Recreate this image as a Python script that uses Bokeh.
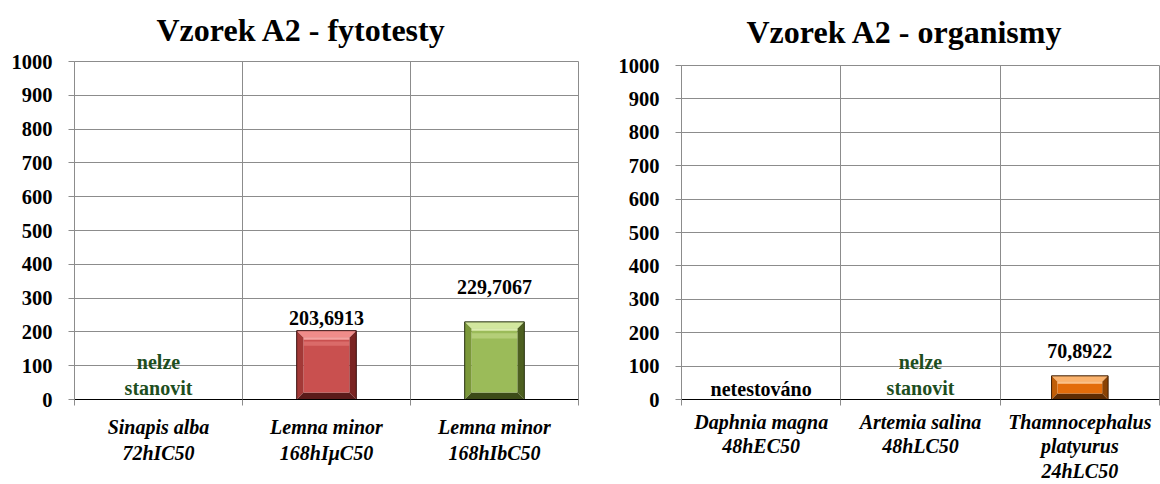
from bokeh.plotting import figure
from bokeh.models import Range1d, FixedTicker, ColumnDataSource
from bokeh.layouts import row
from bokeh.embed import file_html
from bokeh.resources import INLINE
from bokeh.core.properties import value

FONT = "Liberation Serif"

# ---------------- data ----------------
fyto_title = "Vzorek A2 - fytotesty"
fyto_categories = ["Sinapis alba\n72hIC50", "Lemna minor\n168hI\u03bcC50", "Lemna minor\n168hIbC50"]
fyto_values = [None, 203.6913, 229.7067]
fyto_labels = ["nelze\nstanovit", "203,6913", "229,7067"]

org_title = "Vzorek A2 - organismy"
org_categories = ["Daphnia magna\n48hEC50", "Artemia salina\n48hLC50", "Thamnocephalus\nplatyurus\n24hLC50"]
org_values = [None, None, 70.8922]
org_labels = ["netestov\u00e1no", "nelze\nstanovit", "70,8922"]

y_ticks = list(range(0, 1001, 100))

# ---------------- styles ----------------
RED = dict(main="#C9504F", light="#F08C8A", left="#A33937", right="#7A2422",
           bottom="#5A1B1A", edge="#3A0F0E", glow="#F4A3A1")
GREEN = dict(main="#9BBB59", light="#D2E79E", left="#7B983A", right="#4D6020",
             bottom="#3C4B18", edge="#26300E", glow="#DCEDB0")
ORANGE = dict(main="#E36C0A", light="#FBB36E", left="#C05E08", right="#8A4204",
              bottom="#5E2C03", edge="#3E1D02", glow="#FCC590")

fyto_styles = [None, RED, GREEN]
org_styles = [None, None, ORANGE]
fyto_text_colors = ["#1E4E1E", "black", "black"]
org_text_colors = ["black", "#1E4E1E", "black"]
fyto_label_offsets = [0, -13, -35]
org_label_offsets = [0, 0, -25]

GRID = "#8C8C8C"
HEIGHT = 484
BOTTOM = 85


def make_chart(title, cats, vals, labels, styles, tcolors, loffs,
               width, border_left, border_right, border_top, frame_w, title_offset,
               xlabel_standoff, xlabel_line_height):
    frame_h = HEIGHT - border_top - BOTTOM
    p = figure(width=width, height=HEIGHT,
               x_range=Range1d(0, len(cats)), y_range=Range1d(0, 1000),
               output_backend="svg", toolbar_location=None,
               min_border_left=border_left, min_border_right=border_right,
               min_border_top=border_top, min_border_bottom=BOTTOM,
               title=title)
    try:
        p.frame_align = False
    except Exception:
        pass
    p.title.align = "left"
    p.title.vertical_align = "top"
    p.title.offset = title_offset
    p.title.standoff = border_top - 37.5
    p.title.text_font = FONT
    p.title.text_font_size = "32px"
    p.title.text_font_style = "bold"
    p.title.text_color = "black"

    p.outline_line_color = GRID
    p.background_fill_color = "white"
    p.border_fill_color = "white"

    # y axis
    p.yaxis.ticker = FixedTicker(ticks=y_ticks, minor_ticks=[])
    p.yaxis.major_label_text_font = FONT
    p.yaxis.major_label_text_font_size = "20.5px"
    p.yaxis.major_label_text_font_style = "bold"
    p.yaxis.major_label_text_color = "black"
    p.yaxis.axis_line_color = GRID
    p.yaxis.major_tick_line_color = GRID
    p.yaxis.major_tick_out = 6
    p.yaxis.major_tick_in = 0
    p.yaxis.major_label_standoff = 16

    # x axis: labels at category centres, tick marks at category boundaries
    n = len(cats)
    centers = [i + 0.5 for i in range(n)]
    p.xaxis.ticker = FixedTicker(ticks=centers, minor_ticks=list(range(n + 1)))
    p.xaxis.major_label_overrides = {c: t for c, t in zip(centers, cats)}
    p.xaxis.major_label_text_font = FONT
    p.xaxis.major_label_text_font_size = "20px"
    p.xaxis.major_label_text_font_style = "bold italic"
    p.xaxis.major_label_text_color = "black"
    p.xaxis.major_label_text_line_height = xlabel_line_height
    p.xaxis.axis_line_color = "black"
    p.xaxis.major_tick_out = 0
    p.xaxis.major_tick_in = 0
    p.xaxis.minor_tick_out = 6
    p.xaxis.minor_tick_in = 0
    p.xaxis.minor_tick_line_color = GRID
    p.xaxis.major_label_standoff = xlabel_standoff

    p.xgrid.ticker = FixedTicker(ticks=list(range(1, n)), minor_ticks=[])
    p.xgrid.grid_line_color = GRID
    p.ygrid.grid_line_color = GRID

    # bars with a bevel look (faces computed from each bar's value)
    bw = 0.355
    px_x = frame_w / n
    px_y = frame_h / 1000.0
    for c, v, st in zip(centers, vals, styles):
        if v is None or st is None:
            continue
        hpx = v * px_y
        bev = min(7.0, hpx / 4.0)
        bx = bev / px_x
        by = bev / px_y
        x0, x1 = c - bw / 2, c + bw / 2
        ix0, ix1 = x0 + bx, x1 - bx
        faces_x = [
            [x0, x1, ix1, ix0],          # top
            [x0, ix0, ix0, x0],          # left
            [x1, x1, ix1, ix1],          # right
            [x0, x1, ix1, ix0],          # bottom
        ]
        faces_y = [
            [v, v, v - by, v - by],
            [0, by, v - by, v],
            [0, v, v - by, by],
            [0, 0, by, by],
        ]
        p.patches(xs=faces_x, ys=faces_y,
                  fill_color=[st["light"], st["left"], st["right"], st["bottom"]],
                  line_color=None)
        p.vbar(x=[c], width=ix1 - ix0, top=[v - by], bottom=by, fill_color=st["main"], line_color=None)
        glow = 2.0 / px_y
        p.vbar(x=[c], width=ix1 - ix0, top=[v - by], bottom=v - by - glow,
               fill_color=st["glow"], line_color=None)
        inner = v - 2 * by
        p.vbar(x=[c], width=ix1 - ix0, top=[v - by - inner * 0.07], bottom=v - by - inner * 0.15,
               fill_color=st["light"], fill_alpha=0.45, line_color=None)
        p.vbar(x=[c], width=bw, top=[v], bottom=0, fill_color=None, line_color=st["edge"], line_width=1)

    # value / note labels
    xs, ys, txt, cols, offs, bases = [], [], [], [], [], []
    for c, v, t, col, o in zip(centers, vals, labels, tcolors, loffs):
        xs.append(c)
        ys.append(0 if v is None else v)
        txt.append(t)
        cols.append(col)
        offs.append(o)
        bases.append("bottom" if v is None else "middle")
    src = ColumnDataSource(dict(x=xs, y=ys, text=txt, color=cols, off=offs, base=bases))
    p.text(x="x", y="y", text="text", source=src, text_color="color", y_offset="off",
           text_baseline="base", text_align="center",
           text_font=value(FONT), text_font_size="20px", text_font_style="bold")
    return p


p1 = make_chart(fyto_title, fyto_categories, fyto_values, fyto_labels, fyto_styles,
                fyto_text_colors, fyto_label_offsets,
                width=600, border_left=74, border_right=22, border_top=60, frame_w=504,
                title_offset=82, xlabel_standoff=10, xlabel_line_height=1.2)
p2 = make_chart(org_title, org_categories, org_values, org_labels, org_styles,
                org_text_colors, org_label_offsets,
                width=560, border_left=81, border_right=1, border_top=64, frame_w=478,
                title_offset=65, xlabel_standoff=5, xlabel_line_height=1.12)

layout = row(p1, p2, spacing=0)
open("out.html", "w").write(file_html(layout, INLINE))
